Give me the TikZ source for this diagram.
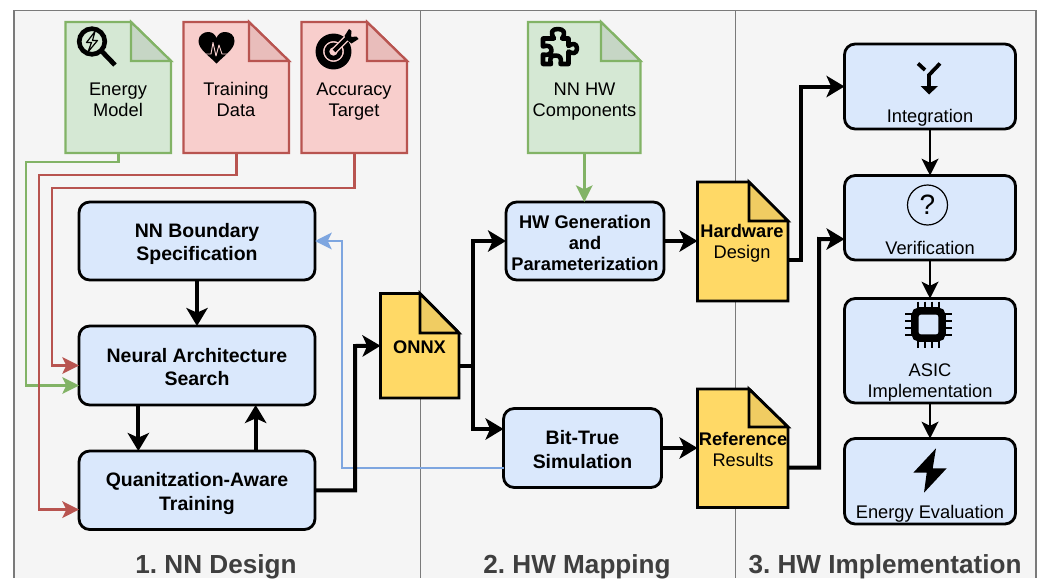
\documentclass[tikz,border=0pt]{standalone}
\usepackage{fontspec}
\setmainfont{Liberation Sans}
\usetikzlibrary{arrows.meta,fit}
\frenchspacing
\definecolor{panelfill}{HTML}{F5F5F5}
\definecolor{panelline}{HTML}{7A7A7A}
\definecolor{greenfill}{HTML}{D5E8D4}
\definecolor{greenline}{HTML}{82B366}
\definecolor{greenfold}{HTML}{C6D6C5}
\definecolor{redfill}{HTML}{F8CECC}
\definecolor{redline}{HTML}{B85450}
\definecolor{redfold}{HTML}{E9BDBB}
\definecolor{bluefill}{HTML}{DAE8FC}
\definecolor{blueline}{HTML}{7EA6E0}
\definecolor{yellowfill}{HTML}{FFD966}
\definecolor{yellowfold}{HTML}{F0CC62}
\definecolor{headtext}{HTML}{3F3F3F}
\tikzset{
  geom/.style={inner sep=0pt,outer sep=0pt,align=center},
  stepbox/.style={geom,draw=black,line width=2.1pt,fill=bluefill,rounded corners=8pt},
  docbody/.style={geom},
  txt/.style={inner sep=0pt,align=center,text=black,font=\fontsize{13.7}{15.75}\selectfont},
  btxt/.style={txt,font=\fontsize{13.7}{15.75}\selectfont\bfseries},
  bigtxt/.style={txt,font=\fontsize{14.6}{17.8}\selectfont\bfseries},
  head/.style={inner sep=0pt,text=headtext,font=\fontsize{19.6}{23}\selectfont\bfseries},
  thickarrow/.style={draw=black,line width=3pt,-{Stealth[length=13.5pt,width=16pt,inset=3.5pt]}},
  thinarrow/.style={draw=black,line width=2.2pt,-{Stealth[length=12.5pt,width=12.5pt,inset=3pt]}},
  colarrow/.style={line width=1.9pt,-{Stealth[length=12.5pt,width=12.5pt,inset=3pt]}},
}
\newcommand{\docfile}[7]{%
  \def\fA{#1}\docfileB{#2}{#3}{#4}{#5}{#6}{#7}}
\newcommand{\docfileB}[6]{%
  \def\xa{#1}\def\ya{#2}\def\xb{#3}\def\yb{#4}\def\fx{#5}\def\fy{#6}%
  \docdraw}
\newcommand{\docdraw}{%
  \path[draw=\dstroke,fill=\dfill,line width=\dlw,line join=miter]
    (\xa,\ya) -- (\fx,\ya) -- (\xb,\fy) -- (\xb,\yb) -- (\xa,\yb) -- cycle;
  \path[draw=\dstroke,fill=\dfold,line width=\dlw,line join=miter]
    (\fx,\ya) -- (\fx,\fy) -- (\xb,\fy) -- cycle;
  \node[docbody,fit={(\xa,\ya)(\xb,\yb)}] (\fA) {};}
\newcommand{\docstyle}[4]{\def\dfill{#1}\def\dstroke{#2}\def\dfold{#3}\def\dlw{#4}}
\begin{document}
\begin{tikzpicture}[x=.75pt,y=-.75pt]
\useasboundingbox (0,0) rectangle (1038,578);
% panels
\fill[panelfill] (14,10.5) rectangle (1036,578);
\draw[panelline,line width=.9pt] (14,578) -- (14,10.5) -- (1036,10.5) -- (1036,578);
\draw[panelline,line width=.75pt] (420.5,10.5) -- (420.5,578);
\draw[panelline,line width=.75pt] (735.5,10.5) -- (735.5,578);
% source documents
\docstyle{greenfill}{greenline}{greenfold}{1.7pt}
\docfile{energy}{65.5}{22}{171}{153}{131}{61}
\node[txt] (energytxt) at (118,99.5) {Energy\\Model};
\docfile{nnhw}{528}{22}{640.5}{153}{601}{61}
\node[txt] (nnhwtxt) at (584.5,101.5) {NN HW\\Components};
\docstyle{redfill}{redline}{redfold}{1.7pt}
\docfile{train}{183.5}{22}{289}{153}{249}{61}
\node[txt] (traintxt) at (236,99.5) {Training\\Data};
\docfile{target}{301.5}{22}{407}{153}{367}{61}
\node[txt] (targettxt) at (354,101.5) {Accuracy\\Target};
% process boxes
\node[stepbox,fit={(79,202)(315,280)}] (bound) {};
\node[bigtxt] (boundtxt) at (197,244) {NN Boundary\\Specification};
\node[stepbox,fit={(79,326)(315,405)}] (nas) {};
\node[bigtxt] (nastxt) at (197,367) {Neural Architecture\\Search};
\node[stepbox,fit={(79,451)(315,529.5)}] (qat) {};
\node[bigtxt] (qattxt) at (197,493.5) {Quanitzation-Aware\\Training};
\node[stepbox,fit={(506,202)(664,280)}] (hwgen) {};
\node[btxt] (hwgentxt) at (585,242.5) {HW Generation\\and\\Parameterization};
\node[stepbox,fit={(503.5,408.5)(661.5,487.5)}] (bittrue) {};
\node[bigtxt] (bittruetxt) at (582.5,449.5) {Bit-True\\Simulation};
% yellow documents
\docstyle{yellowfill}{black}{yellowfold}{2.1pt}
\docfile{onnx}{380.5}{293.5}{459}{398}{420}{333}
\node[btxt] (onnxtxt) at (419.5,347) {ONNX};
\docfile{hwdesign}{697.5}{182}{788}{301}{749}{221}
\node[txt] (hwdesigntxt) at (742,243.5) {\textbf{Hardware}\\Design};
\docfile{refres}{697.5}{389}{788}{507.5}{749}{427}
\node[txt] (refrestxt) at (743,449) {\textbf{Reference}\\Results};
% step boxes
\node[stepbox,fit={(844.5,44)(1015.5,129)}] (integ) {};
\node[txt] (integtxt) at (930,118) {Integration};
\node[stepbox,fit={(844.5,175.5)(1015.5,260)}] (verif) {};
\node[txt] (veriftxt) at (930,247.5) {Verification};
\node[stepbox,fit={(844.5,298.5)(1015.5,403)}] (asic) {};
\node[txt] (asictxt) at (930,382.5) {ASIC\\Implementation};
\node[stepbox,fit={(844.5,438.5)(1015.5,524)}] (evalbox) {};
\node[txt] (evaltxt) at (930,514) {Energy Evaluation};
% headings
\node[head] (h1) at (216,567) {1. NN Design};
\node[head] (h2) at (577,567) {2. HW Mapping};
\node[head] (h3) at (885,567) {3. HW Implementation};
% coloured connectors
\draw[colarrow,draw=greenline] (energy.south) |- (26,162) |- ([yshift=-15pt]nas.west);
\draw[colarrow,draw=greenline] (nnhw.south) -- (nnhw.south |- hwgen.north);
\draw[colarrow,draw=redline] (train.south) |- (39,175) |- ([yshift=-14.5pt]qat.west);
\draw[colarrow,draw=redline] (target.south) |- (52,188) |- (nas.west);
\draw[colarrow,draw=blueline] ([yshift=-15pt]bittrue.west) -| (342,241) -- (bound.east);
% black connectors
\draw[thickarrow] (bound.south) -- (nas.north);
\draw[thickarrow] ([xshift=-44pt]nas.south) -- ([xshift=-44pt]qat.north);
\draw[thickarrow] ([xshift=44pt]qat.north) -- ([xshift=44pt]nas.south);
\draw[thickarrow] (qat.east) -| (355,346) -- (onnx.west);
\draw[thickarrow] ([yshift=-15pt]onnx.east) -| (472.5,241) -- (hwgen.west);
\draw[thickarrow] ([yshift=-15pt]onnx.east) -| (472.5,429) -- ([yshift=14.25pt]bittrue.west);
\draw[thickarrow] (hwgen.east) -- (hwgen.east -| hwdesign.west);
\draw[thickarrow] (bittrue.east) -- (bittrue.east -| refres.west);
\draw[thickarrow] ([yshift=-14pt]hwdesign.east) -| (801,86.5) -- (integ.west);
\draw[thickarrow] ([yshift=-14.5pt]refres.east) -| (819,239) -- ([yshift=-16pt]verif.west);
\draw[thinarrow] (integ.south) -- (verif.north);
\draw[thinarrow] (verif.south) -- (asic.north);
\draw[thinarrow] (asic.south) -- (evalbox.north);
% --- icons ---
% magnifier with bolt
\draw[black,line width=3.5pt] (92,41.5) circle (12.8);
\draw[black,line width=3.6pt] (101.5,51) -- (115,65);
\draw[black,line width=.9pt,line join=round] (95,31.5) -- (86.5,42.5) -- (91.5,42.5) -- (88,52) -- (97.5,40.5) -- (92.5,40.5) -- cycle;
% heart
\fill[black] (216.5,63.5) .. controls (208,55) and (198.5,49) .. (198.5,41) .. controls (198.5,35) and (204,32) .. (208,32)
  .. controls (212,32) and (215,34) .. (216.5,38) .. controls (218,34) and (221,32) .. (225,32)
  .. controls (230,32) and (234.5,35) .. (234.5,41) .. controls (234.5,49) and (225,55) .. (216.5,63.5) -- cycle;
\draw[redfill,line width=.7pt,line join=round] (206,54) -- (211,54) -- (213,42.5) -- (216,56) -- (219,45) -- (222,54) -- (227,54);
% target
\draw[black,line width=5.6pt] (333.5,51.5) circle (14.2);
\draw[black,line width=3.5pt] (333.5,51.5) circle (6.5);
\draw[redfill,line width=5pt] (333.5,51.5) -- (348,37);
\draw[black,line width=2.8pt] (334,51) -- (350,35);
\fill[black] (344.5,36) -- (349,29) -- (351.5,31) -- (351,37) -- (356.5,36.5) -- (358.5,39) -- (351.5,43.5) -- (347.5,40.5) -- cycle;
% puzzle piece
\draw[black,line width=3.4pt,line join=round] (543,38.5) -- (554,38.5)
  .. controls (550,32) and (552,29) .. (558,29) .. controls (564,29) and (566,33) .. (562,38.5)
  -- (568.5,38.5) -- (568.5,46) .. controls (572,43) and (577,43) .. (577,48.5)
  .. controls (577,54) and (572,54) .. (568.5,51.5) -- (568.5,64) -- (560.5,64)
  .. controls (562,58) and (560,55.5) .. (555.5,55.5) .. controls (551,55.5) and (549,58) .. (551,64)
  -- (543,64) -- (543,54.5) .. controls (548,56) and (551.5,53.5) .. (551.5,50.5) .. controls (551.5,46.5) and (548,44.5) .. (543,46.5) -- cycle;
% merge icon
\draw[black,line width=2.8pt] (918,63.5) -- (925,70);
\draw[black,line width=2.8pt] (940,63.5) -- (929,75) -- (929,89);
\fill[black] (920.5,86) -- (938,86) -- (929,94.5) -- cycle;
% question
\draw[black,line width=.9pt] (927.5,205) circle (20);
\node[inner sep=0pt,text=black,font=\fontsize{21}{24}\selectfont] (qmark) at (927.5,205) {?};
% chip
\foreach \d in {-10.5,-3.5,3.5,10.5}{
  \draw[black,line width=2pt] (928.5+\d,301.5) -- (928.5+\d,348);
  \draw[black,line width=2pt] (905,324.5+\d) -- (952,324.5+\d);
}
\draw[black,fill=bluefill,line width=5.6pt,rounded corners=4pt] (914.8,310.8) rectangle (942.2,338.2);
% bolt
\fill[black] (936,448.3) -- (913.3,472.7) -- (926.7,472.7) -- (924,492.7) -- (946.7,468.3) -- (932.7,468.3) -- cycle;
\end{tikzpicture}
\end{document}
